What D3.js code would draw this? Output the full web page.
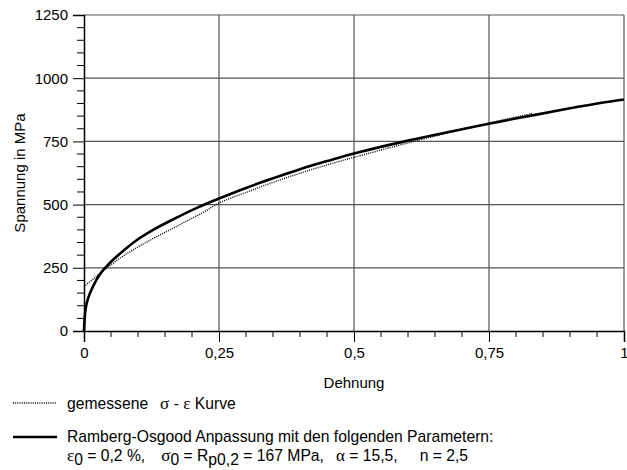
<!DOCTYPE html>
<html>
<head>
<meta charset="utf-8">
<script src="https://cdn.jsdelivr.net/npm/d3@7"></script>
<style>
  body { margin: 0; background: #fff; }
  svg { display: block; font-family: "Liberation Sans", Arial, sans-serif; }
</style>
</head>
<body>
<svg id="chart" width="627" height="470"></svg>
<script>
// Ramberg-Osgood fit (solid line)
const fitStrain = [0, 0.002, 0.005, 0.011, 0.023, 0.03, 0.042, 0.051, 0.067, 0.098, 0.128, 0.159, 0.209, 0.25, 0.3, 0.35, 0.4, 0.45, 0.5, 0.6, 0.7, 0.75, 0.833, 0.9, 0.956, 1];
const fitStress = [0, 70, 110, 149, 202, 226, 256, 276, 307, 360, 400, 435, 487, 524, 566, 604, 640, 672, 702, 753, 798, 820, 854, 881, 902, 916];

// measured sigma-epsilon curve (dotted line)
const measStrain = [0, 0.02, 0.043, 0.07, 0.098, 0.13, 0.159, 0.19, 0.221, 0.25, 0.3, 0.35, 0.4, 0.45, 0.5, 0.6, 0.7, 0.75, 0.83];
const measStress = [175, 211, 250, 293, 330, 368, 400, 435, 469, 506, 548, 588, 624, 657, 687, 744, 797, 822, 861];

// axes
const xTicks = [0, 0.25, 0.5, 0.75, 1];
const xTickLabels = ['0', '0,25', '0,5', '0,75', '1'];
const yTicks = [0, 250, 500, 750, 1000, 1250];
const yTickLabels = ['0', '250', '500', '750', '1000', '1250'];

const margin = { top: 15, left: 84 };
const innerWidth = 540;
const innerHeight = 316;

const svg = d3.select('#chart');

const xScale = d3.scaleLinear().domain([0, 1]).range([0, innerWidth]);
const yScale = d3.scaleLinear().domain([0, 1250]).range([innerHeight, 0]);

const g = svg.append('g')
  .attr('transform', `translate(${margin.left},${margin.top})`);

// grid lines
const gridColor = '#555';
g.append('g').selectAll('line')
  .data(yTicks.filter(d => d > 0))
  .join('line')
  .attr('x1', 0).attr('x2', innerWidth)
  .attr('y1', d => yScale(d)).attr('y2', d => yScale(d))
  .attr('stroke', gridColor).attr('stroke-width', 1.2);

g.append('g').selectAll('line')
  .data(xTicks.filter(d => d > 0))
  .join('line')
  .attr('x1', d => xScale(d)).attr('x2', d => xScale(d))
  .attr('y1', 0).attr('y2', innerHeight)
  .attr('stroke', gridColor).attr('stroke-width', 1.2);

// minor ticks (every 50 MPa / every 0.05)
const yMinor = d3.range(0, 1251, 50).filter(d => d % 250 !== 0);
const xMinor = d3.range(0, 21).map(i => i / 20).filter(d => Math.round(d * 20) % 5 !== 0);

const yAxis = g.append('g')
  .call(d3.axisLeft(yScale).tickValues(yTicks).tickFormat((d, i) => yTickLabels[i]).tickSize(11).tickPadding(5));
yAxis.append('g').selectAll('line')
  .data(yMinor)
  .join('line')
  .attr('x1', -7).attr('x2', 0)
  .attr('y1', d => yScale(d)).attr('y2', d => yScale(d))
  .attr('stroke', '#000');

const xAxis = g.append('g')
  .attr('transform', `translate(0,${innerHeight})`)
  .call(d3.axisBottom(xScale).tickValues(xTicks).tickFormat((d, i) => xTickLabels[i]).tickSize(11).tickPadding(5));
xAxis.append('g').selectAll('line')
  .data(xMinor)
  .join('line')
  .attr('x1', d => xScale(d)).attr('x2', d => xScale(d))
  .attr('y1', 0).attr('y2', 6)
  .attr('stroke', '#000');

[yAxis, xAxis].forEach(ax => {
  ax.select('.domain').attr('stroke', '#000').attr('stroke-width', 1.5);
  ax.selectAll('.tick line').attr('stroke', '#000');
  ax.selectAll('text')
    .attr('font-size', 15)
    .attr('font-family', '"Liberation Sans", Arial, sans-serif')
    .attr('fill', '#000');
});

// curves
const line = d3.line()
  .x(d => xScale(d[0]))
  .y(d => yScale(d[1]))
  .curve(d3.curveCatmullRom.alpha(0.5));

g.append('path')
  .datum(d3.zip(measStrain, measStress))
  .attr('fill', 'none')
  .attr('stroke', '#000')
  .attr('stroke-width', 1.4)
  .attr('stroke-dasharray', '1,1.2')
  .attr('d', line);

g.append('path')
  .datum(d3.zip(fitStrain, fitStress))
  .attr('fill', 'none')
  .attr('stroke', '#000')
  .attr('stroke-width', 2.6)
  .attr('d', line);

// axis titles
svg.append('text')
  .attr('x', margin.left + innerWidth / 2)
  .attr('y', 388)
  .attr('text-anchor', 'middle')
  .attr('font-size', 15)
  .text('Dehnung');

svg.append('text')
  .attr('transform', `translate(25,${margin.top + innerHeight / 2}) rotate(-90)`)
  .attr('text-anchor', 'middle')
  .attr('font-size', 15)
  .text('Spannung in MPa');

// legend
const greek = 'font-family: "Liberation Serif", "DejaVu Serif", serif; font-size: 17px';
const fs = 15.7;
const legend = svg.append('g');

legend.append('line')
  .attr('x1', 13).attr('x2', 57).attr('y1', 403).attr('y2', 403)
  .attr('stroke', '#000').attr('stroke-width', 1.4).attr('stroke-dasharray', '1,1.2');

const t1 = legend.append('text').attr('x', 67).attr('y', 409).attr('font-size', fs);
t1.append('tspan').text('gemessene');
t1.append('tspan').attr('dx', 12).attr('style', greek).text('σ');
t1.append('tspan').text(' - ');
t1.append('tspan').attr('style', greek).text('ε');
t1.append('tspan').text(' Kurve');

legend.append('line')
  .attr('x1', 13).attr('x2', 57).attr('y1', 437).attr('y2', 437)
  .attr('stroke', '#000').attr('stroke-width', 2.6);

legend.append('text')
  .attr('x', 67).attr('y', 442).attr('font-size', fs)
  .text('Ramberg-Osgood Anpassung mit den folgenden Parametern:');

// parameter line with subscripts
const t3 = legend.append('text').attr('x', 67).attr('y', 461).attr('font-size', fs);
t3.append('tspan').attr('style', greek).text('ε');
t3.append('tspan').attr('dy', 4).text('0');
t3.append('tspan').attr('dy', -4).text(' = 0,2 %,');
t3.append('tspan').attr('dx', 16).attr('style', greek).text('σ');
t3.append('tspan').attr('dy', 4).text('0');
t3.append('tspan').attr('dy', -4).text(' = R');
t3.append('tspan').attr('dy', 4).text('p0,2');
t3.append('tspan').attr('dy', -4).text(' = 167 MPa,');
t3.append('tspan').attr('dx', 12).attr('style', greek).text('α');
t3.append('tspan').text(' = 15,5,');
t3.append('tspan').attr('dx', 22).text('n = 2,5');
</script>
</body>
</html>
